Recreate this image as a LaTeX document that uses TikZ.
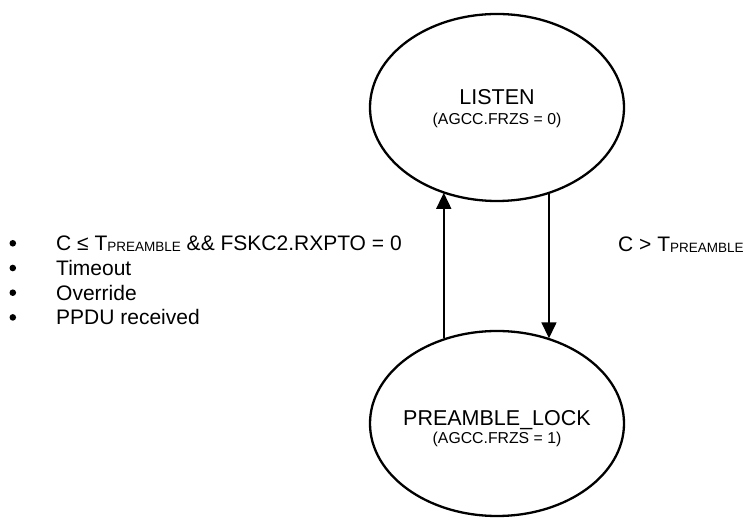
\documentclass[tikz,border=0pt]{standalone}
\usepackage{fontspec}
\setmainfont{Liberation Sans}
\usetikzlibrary{shapes.geometric,arrows.meta}
\newcommand\mysubs[1]{\raisebox{-1.2pt}{\fontsize{13.5}{14}\selectfont #1}}
\begin{document}
\begin{tikzpicture}[x=1pt,y=1pt,
  state/.style={ellipse,draw,line width=2.3pt,minimum width=254pt,inner sep=0pt},
  big/.style={anchor=base,inner sep=0pt,font=\fontsize{21.5}{24}\selectfont},
  small/.style={anchor=base,inner sep=0pt,font=\fontsize{15.8}{18}\selectfont},
  arr/.style={line width=1.5pt,-{Triangle[length=16pt,width=15pt]}},
  bul/.style={circle,fill,inner sep=0pt,minimum size=6.6pt},
  txt/.style={anchor=base west,inner sep=0pt,font=\fontsize{21}{25}\selectfont}]
\useasboundingbox (0,0) rectangle (747,519);
% states
\node[state,minimum height=187pt] (listen) at (497,411.5) {};
\node[state,minimum height=185pt] (plock) at (497,95.5) {};
\node[big]   (listenT) at ([yshift=3.1pt]listen.center) {LISTEN};
\node[small] (listenS) at ([yshift=-17.4pt]listen.center) {(AGCC.FRZS = 0)};
\node[big]   (plockT)  at ([yshift=-2.2pt]plock.center) {PREAMBLE\_LOCK};
\node[small] (plockS)  at ([yshift=-19.7pt]plock.center) {(AGCC.FRZS = 1)};
% transitions
\draw[arr] (plock.122.8) -- (plock.122.8 |- listen.237.8);
\draw[arr] (listen.301) -- (listen.301 |- plock.58.4);
% labels
\node[txt] (cond) at (618,267.3) {C > T\mysubs{PREAMBLE}};
\node[txt] (l1) at (56,268.2) {C ≤ T\mysubs{PREAMBLE} \&\& FSKC2.RXPTO = 0};
\node[txt] (l2) at (56,243.5) {Timeout};
\node[txt] (l3) at (56,218.8) {Override};
\node[txt] (l4) at (56,194.1) {PPDU received};
\node[bul] (b1) at (12.8,275.7) {};
\node[bul] (b2) at (12.8,251.0) {};
\node[bul] (b3) at (12.8,226.3) {};
\node[bul] (b4) at (12.8,201.6) {};
\end{tikzpicture}
\end{document}
